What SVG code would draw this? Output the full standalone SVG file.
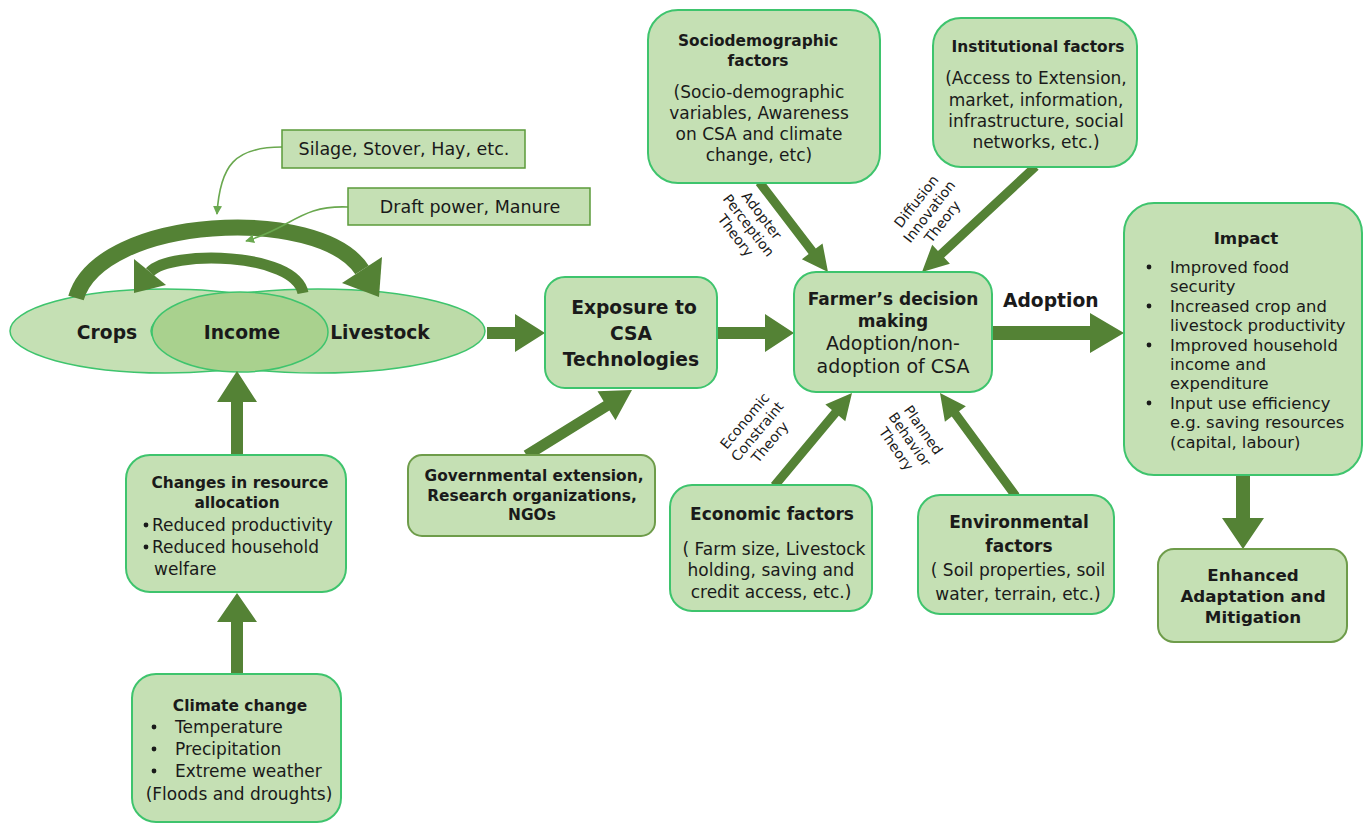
<svg xmlns="http://www.w3.org/2000/svg" width="1364" height="824" viewBox="0 0 1364 824">
<defs>
<style>
.n{fill:#c5e0b4;stroke:#3ec46d;stroke-width:2}
.o{fill:#c5e0b4;stroke:#6e9c4a;stroke-width:2}
.s{fill:#c5e0b4;stroke:#5b9b3a;stroke-width:1.5}
.a{fill:#548235;stroke:none}
.arc{fill:none;stroke:#548235}
.thin{fill:none;stroke:#6aa84f;stroke-width:1.6}
text{font-family:"DejaVu Sans","Open Sans",sans-serif;fill:#1a1a1a}
.b{font-weight:bold}
.c{text-anchor:middle}
.r{font-size:14px}
.bt{font-size:15.4px}
.bd{font-size:17px}
.tx{font-size:17px}
.big{font-size:18.7px}
</style>
<marker id="m" viewBox="0 0 10 10" refX="9" refY="5" markerWidth="9" markerHeight="9" markerUnits="userSpaceOnUse" orient="auto">
<path d="M0,0 L10,5 L0,10 z" fill="#6aa84f"/>
</marker>
</defs>
<rect width="1364" height="824" fill="#ffffff"/>

<g id="ellipses">
<ellipse cx="165" cy="331" rx="155" ry="42" fill="#c5e0b4" stroke="#3ec46d" stroke-width="1.5"/>
<ellipse cx="318" cy="331" rx="167" ry="42" fill="#bcdba8" stroke="#3ec46d" stroke-width="1.5"/>
<ellipse cx="240" cy="332" rx="88" ry="40" fill="#a9d18e" stroke="#3ec46d" stroke-width="1.5"/>
<text class="b c big" x="107" y="339">Crops</text>
<text class="b c big" x="242" y="339">Income</text>
<text class="b c big" x="380" y="339">Livestock</text>
</g>

<g id="connectors">
<path class="arc" stroke-width="16" d="M76,298 C100,215 320,205 362,270"/>
<polygon class="a" points="382,257 342,283 379,297"/>
<path class="arc" stroke-width="11" d="M303,293 C295,252 170,250 150,272"/>
<polygon class="a" points="166,285 134,259 134,293"/>
<path class="thin" marker-end="url(#m)" d="M282,147 C235,147 220,165 217,214"/>
<path class="thin" marker-end="url(#m)" d="M348,207 C300,205 292,228 246,241"/>
<polygon class="a" points="487,327 515,327 515,314 545,333 515,352 515,339 487,339"/>
<polygon class="a" points="718,327 765,327 765,314 794,333 765,352 765,339 718,339"/>
<polygon class="a" points="993,326 1090,326 1090,313 1124,333 1090,353 1090,340 993,340"/>
<polygon class="a" points="1236,476 1250,476 1250,518 1264,518 1243,549 1222,518 1236,518"/>
<polygon class="a" points="231,455 243,455 243,402 257,402 237,371 217,402 231,402"/>
<polygon class="a" points="231,674 243,674 243,622 257,622 237,593 217,622 231,622"/>
<polygon class="a" transform="translate(632,390) rotate(-31.8)" points="-124,-5.5 -30,-5.5 -30,-17 0,0 -30,17 -30,5.5 -124,5.5"/>
<polygon class="a" transform="translate(828,272) rotate(52.6)" points="-113,-4.5 -26,-4.5 -26,-13 0,0 -26,13 -26,4.5 -113,4.5"/>
<polygon class="a" transform="translate(922,272) rotate(137.1)" points="-155,-4.5 -26,-4.5 -26,-13 0,0 -26,13 -26,4.5 -155,4.5"/>
<polygon class="a" transform="translate(852,393) rotate(-50.1)" points="-121,-4.5 -26,-4.5 -26,-13 0,0 -26,13 -26,4.5 -121,4.5"/>
<polygon class="a" transform="translate(940,393) rotate(-126.3)" points="-128,-4.5 -26,-4.5 -26,-13 0,0 -26,13 -26,4.5 -128,4.5"/>
<text class="b big" x="1003" y="307">Adoption</text>
<g transform="translate(748,226) rotate(52.6)">
<text class="c r" x="0" y="-12.5">Adopter</text>
<text class="c r" x="0" y="4">Perception</text>
<text class="c r" x="0" y="20.5">Theory</text>
</g>
<g transform="translate(930,212) rotate(-52)">
<text class="c r" x="0" y="-12.5">Diffusion</text>
<text class="c r" x="0" y="4">Innovation</text>
<text class="c r" x="0" y="20.5">Theory</text>
</g>
<g transform="translate(758,432) rotate(-50)">
<text class="c r" x="0" y="-12.5">Economic</text>
<text class="c r" x="0" y="4">Constraint</text>
<text class="c r" x="0" y="20.5">Theory</text>
</g>
<g transform="translate(909,440) rotate(55)">
<text class="c r" x="0" y="-12.5">Planned</text>
<text class="c r" x="0" y="4">Behavior</text>
<text class="c r" x="0" y="20.5">Theory</text>
</g>
</g>

<g id="silage">
<rect class="s" x="282" y="130" width="243" height="38"/>
<text class="c" font-size="17.5" x="404" y="155">Silage, Stover, Hay, etc.</text>
</g>
<g id="draft">
<rect class="s" x="348" y="188" width="242" height="37"/>
<text class="c" font-size="17.5" x="470" y="213">Draft power, Manure</text>
</g>

<g id="socio">
<rect class="n" x="648" y="10" width="232" height="173" rx="30"/>
<text class="b c bt" x="758" y="46">Sociodemographic</text>
<text class="b c bt" x="758" y="66">factors</text>
<text class="c tx" x="759" y="98">(Socio-demographic</text>
<text class="c tx" x="759" y="119">variables, Awareness</text>
<text class="c tx" x="759" y="140">on CSA and climate</text>
<text class="c tx" x="759" y="161">change, etc)</text>
</g>

<g id="institutional">
<rect class="n" x="933" y="18" width="204" height="149" rx="28"/>
<text class="b c bt" x="1038" y="52">Institutional factors</text>
<text class="c tx" x="1036" y="84">(Access to Extension,</text>
<text class="c tx" x="1036" y="106">market, information,</text>
<text class="c tx" x="1036" y="127">infrastructure, social</text>
<text class="c tx" x="1036" y="148">networks, etc.)</text>
</g>

<g id="exposure">
<rect class="n" x="545" y="277" width="172" height="111" rx="20"/>
<text class="b c big" x="634" y="314">Exposure to</text>
<text class="b c big" x="631" y="340">CSA</text>
<text class="b c big" x="631" y="366">Technologies</text>
</g>

<g id="farmer">
<rect class="n" x="794" y="272" width="198" height="120" rx="22"/>
<text class="b c bd" x="893" y="305">Farmer’s decision</text>
<text class="b c bd" x="893" y="327">making</text>
<text class="c" font-size="19" x="893" y="350">Adoption/non-</text>
<text class="c" font-size="19" x="893" y="373">adoption of CSA</text>
</g>

<g id="impact">
<rect class="n" x="1124" y="203" width="238" height="272" rx="30"/>
<text class="b c" font-size="16.7" x="1246" y="244">Impact</text>
<g font-size="16.4">
<circle cx="1149" cy="267" r="2.4" fill="#1a1a1a"/>
<text x="1170" y="273">Improved food</text>
<text x="1170" y="292.4">security</text>
<circle cx="1149" cy="306" r="2.4" fill="#1a1a1a"/>
<text x="1170" y="311.8">Increased crop and</text>
<text x="1170" y="331.2">livestock productivity</text>
<circle cx="1149" cy="345" r="2.4" fill="#1a1a1a"/>
<text x="1170" y="350.6">Improved household</text>
<text x="1170" y="370">income and</text>
<text x="1170" y="389.4">expenditure</text>
<circle cx="1149" cy="403" r="2.4" fill="#1a1a1a"/>
<text x="1170" y="408.8">Input use efficiency</text>
<text x="1170" y="428.2">e.g. saving resources</text>
<text x="1170" y="447.6">(capital, labour)</text>
</g>
</g>

<g id="enhanced">
<rect class="o" x="1158" y="549" width="189" height="93" rx="16"/>
<text class="b c" font-size="16.7" x="1253" y="581">Enhanced</text>
<text class="b c" font-size="16.7" x="1253" y="602">Adaptation and</text>
<text class="b c" font-size="16.7" x="1253" y="623">Mitigation</text>
</g>

<g id="gov">
<rect class="o" x="408" y="455" width="247" height="81" rx="14"/>
<text class="b c bt" x="534" y="481">Governmental extension,</text>
<text class="b c bt" x="532" y="500.5">Research organizations,</text>
<text class="b c bt" x="532" y="520">NGOs</text>
</g>

<g id="economic">
<rect class="n" x="670" y="485" width="202" height="126" rx="22"/>
<text class="b c bd" x="772" y="520">Economic factors</text>
<text class="c tx" x="774" y="555">( Farm size, Livestock</text>
<text class="c tx" x="771" y="576">holding, saving and</text>
<text class="c tx" x="771" y="598">credit access, etc.)</text>
</g>

<g id="environmental">
<rect class="n" x="918" y="495" width="196" height="119" rx="22"/>
<text class="b c bd" x="1019" y="528">Environmental</text>
<text class="b c bd" x="1019" y="552">factors</text>
<text class="c tx" x="1018" y="576">( Soil properties, soil</text>
<text class="c tx" x="1018" y="600">water, terrain, etc.)</text>
</g>

<g id="changes">
<rect class="n" x="126" y="455" width="220" height="137" rx="24"/>
<text class="b c bt" x="240" y="488">Changes in resource</text>
<text class="b c bt" x="237" y="508">allocation</text>
<g class="tx">
<circle cx="146" cy="525" r="2.4" fill="#1a1a1a"/>
<text x="152" y="531">Reduced productivity</text>
<circle cx="146" cy="547" r="2.4" fill="#1a1a1a"/>
<text x="152" y="553">Reduced household</text>
<text x="154" y="575">welfare</text>
</g>
</g>

<g id="climate">
<rect class="n" x="132" y="674" width="209" height="148" rx="24"/>
<text class="b c bt" x="240" y="711">Climate change</text>
<g class="tx">
<circle cx="154" cy="727" r="2.4" fill="#1a1a1a"/>
<text x="175" y="733">Temperature</text>
<circle cx="154" cy="749" r="2.4" fill="#1a1a1a"/>
<text x="175" y="755">Precipitation</text>
<circle cx="154" cy="771" r="2.4" fill="#1a1a1a"/>
<text x="175" y="777">Extreme weather</text>
<text class="c" x="239" y="800">(Floods and droughts)</text>
</g>
</g>
</svg>
